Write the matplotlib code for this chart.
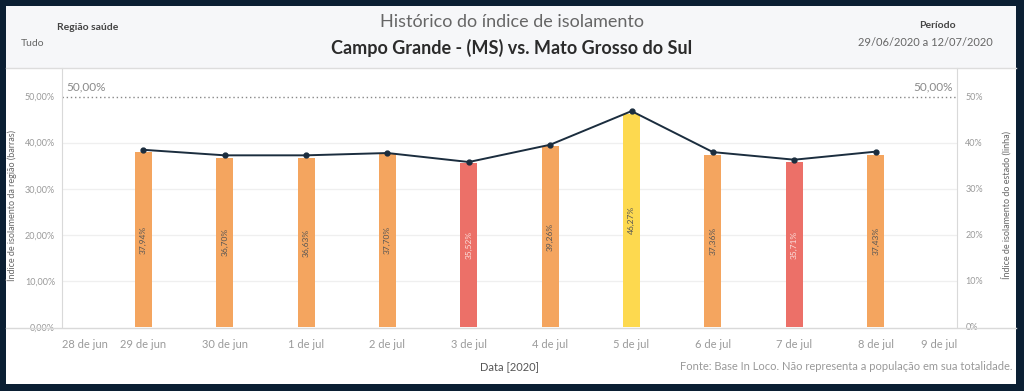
import matplotlib.pyplot as plt
from matplotlib.patches import Rectangle
from matplotlib.lines import Line2D

plt.rcParams['font.family'] = ['Lato', 'DejaVu Sans']

# Data
dates = ['28 de jun', '29 de jun', '30 de jun', '1 de jul', '2 de jul', '3 de jul',
         '4 de jul', '5 de jul', '6 de jul', '7 de jul', '8 de jul', '9 de jul']
bar_dates = dates[1:11]
regiao = [37.94, 36.70, 36.63, 37.70, 35.52, 39.26, 46.27, 37.36, 35.71, 37.43]
estado = [38.45, 37.25, 37.25, 37.75, 35.80, 39.55, 46.85, 37.95, 36.30, 38.05]
bar_labels = ['37,94%', '36,70%', '36,63%', '37,70%', '35,52%', '39,26%',
              '46,27%', '37,36%', '35,71%', '37,43%']
bar_colors = ['#f4a55f', '#f4a55f', '#f4a55f', '#f4a55f', '#ec7068', '#f4a55f',
              '#fdd94f', '#f4a55f', '#ec7068', '#f4a55f']
ref_value = 50.0

W, H = 1024, 391
fig = plt.figure(figsize=(W / 100, H / 100), dpi=100)
fig.patch.set_facecolor('#0b1f33')

# inner panel + header
fig.add_artist(Rectangle((6 / W, 1 - 384 / H), 1010 / W, 378 / H,
                         transform=fig.transFigure, facecolor='white',
                         edgecolor='none', zorder=0))
fig.add_artist(Rectangle((6 / W, 1 - 68 / H), 1010 / W, 62 / H,
                         transform=fig.transFigure, facecolor='#f6f7f9',
                         edgecolor='none', zorder=0))
fig.add_artist(Line2D([6 / W, 1016 / W], [1 - 68 / H, 1 - 68 / H],
                      transform=fig.transFigure, color='#dddddd', lw=1))

ax = fig.add_axes([62 / W, 1 - 327 / H, (957 - 62) / W, (327 - 68) / H])
ax.set_facecolor('none')
x = list(range(len(dates)))
xb = x[1:11]
ymax = 56.2

ax.bar(xb, regiao, width=0.21, color=bar_colors, zorder=2)
for xi, v, lab, c in zip(xb, regiao, bar_labels, bar_colors):
    tc = '#fbe0dc' if c == '#ec7068' else '#555555'
    ax.text(xi, v / 2, lab, rotation=90, ha='center', va='center',
            fontsize=6, color=tc, zorder=3)

ax.set_xlim(0, 11)
ax.set_ylim(0, ymax)
ax.set_yticks([0, 10, 20, 30, 40, 50])
ax.set_yticklabels(['0,00%', '10,00%', '20,00%', '30,00%', '40,00%', '50,00%'])
ax.set_xticks(x)
ax.set_xticklabels(dates)
xl = ax.get_xticklabels()
xl[0].set_ha('left')
xl[-1].set_ha('right')
ax.tick_params(axis='both', length=0, labelsize=6.5, colors='#9a9a9a', pad=5)
ax.tick_params(axis='x', pad=9, labelsize=8)
for t in [10, 20, 30, 40]:
    ax.axhline(t, color='#efefef', lw=0.9, zorder=0)
for s in ['top', 'right']:
    ax.spines[s].set_visible(False)
ax.spines['left'].set_color('#d9d9d9')
ax.spines['bottom'].set_visible(False)
fig.add_artist(Line2D([6 / W, 1016 / W], [1 - 327.5 / H, 1 - 327.5 / H],
                      transform=fig.transFigure, color='#d9d9d9', lw=1))

ax.axhline(ref_value, color='#888888', lw=1, ls=(0, (1, 2)), zorder=1)
ax.text(0.05, ref_value + 0.8, '50,00%', fontsize=8.5, color='#8a8a8a', ha='left', va='bottom')
ax.text(10.95, ref_value + 0.8, '50,00%', fontsize=8.5, color='#8a8a8a', ha='right', va='bottom')

ax2 = ax.twinx()
ax2.plot(xb, estado, color='#1b2d3e', lw=1.4, marker='o', markersize=3.5, zorder=4)
ax2.set_ylim(0, ymax)
ax2.set_yticks([0, 10, 20, 30, 40, 50])
ax2.set_yticklabels(['0%', '10%', '20%', '30%', '40%', '50%'])
ax2.tick_params(axis='y', length=0, labelsize=6.5, colors='#9a9a9a', pad=6)
for s in ['top', 'left', 'bottom']:
    ax2.spines[s].set_visible(False)
ax2.spines['right'].set_color('#d9d9d9')

ax.set_ylabel('Índice de isolamento da região (barras)', fontsize=6.5, color='#666666')
ax.yaxis.set_label_coords(-0.05, 0.47)
ax2.set_ylabel('Índice de isolamento do estado (linha)', fontsize=6.5, color='#666666')
ax2.yaxis.set_label_coords(1.049, 0.47)
ax.set_xlabel('Data [2020]', fontsize=8, color='#555555', labelpad=8)

# header text
fig.text(512 / W, 1 - 22 / H, 'Histórico do índice de isolamento', ha='center', va='center',
         fontsize=13, color='#666666')
fig.text(512 / W, 1 - 48 / H, 'Campo Grande - (MS) vs. Mato Grosso do Sul', ha='center',
         va='center', fontsize=13, color='#2b2b2b', fontweight='bold')
fig.text(57 / W, 1 - 27 / H, 'Região saúde', ha='left', va='center', fontsize=7.5,
         color='#444444', fontweight='bold')
fig.text(21 / W, 1 - 43 / H, 'Tudo', ha='left', va='center', fontsize=7.5, color='#666666')
fig.text(937 / W, 1 - 25 / H, 'Período', ha='center', va='center', fontsize=7.5,
         color='#444444', fontweight='bold')
fig.text(925 / W, 1 - 42 / H, '29/06/2020 a 12/07/2020', ha='center', va='center',
         fontsize=8, color='#666666')
fig.text(1013 / W, 1 - 367 / H, 'Fonte: Base In Loco. Não representa a população em sua totalidade.',
         ha='right', va='center', fontsize=8, color='#999999')

fig.savefig('out.png', dpi=100, facecolor=fig.get_facecolor())
